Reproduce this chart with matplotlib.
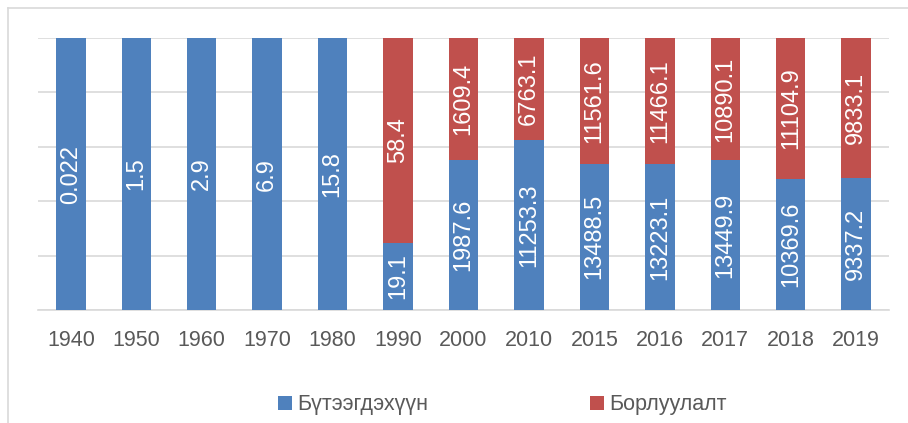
import matplotlib

matplotlib.use("Agg")
import matplotlib.pyplot as plt
import numpy as np
from matplotlib.lines import Line2D

years = ["1940", "1950", "1960", "1970", "1980", "1990", "2000",
         "2010", "2015", "2016", "2017", "2018", "2019"]
product = [0.022, 1.5, 2.9, 6.9, 15.8, 19.1, 1987.6,
           11253.3, 13488.5, 13223.1, 13449.9, 10369.6, 9337.2]
sales = [0, 0, 0, 0, 0, 58.4, 1609.4,
         6763.1, 11561.6, 11466.1, 10890.1, 11104.9, 9833.1]
product_labels = ["0.022", "1.5", "2.9", "6.9", "15.8", "19.1", "1987.6",
                  "11253.3", "13488.5", "13223.1", "13449.9", "10369.6", "9337.2"]
sales_labels = ["", "", "", "", "", "58.4", "1609.4",
                "6763.1", "11561.6", "11466.1", "10890.1", "11104.9", "9833.1"]

plt.rcParams["font.family"] = ["Liberation Sans", "DejaVu Sans"]

BLUE = "#4f81bd"
RED = "#c0504d"
GRID = "#d9d9d9"
TEXT = "#595959"

p = np.array(product, dtype=float)
s = np.array(sales, dtype=float)
total = p + s
p_share = p / total * 100
s_share = s / total * 100

fig = plt.figure(figsize=(9.08, 4.23), dpi=100)
ax = fig.add_axes([0.042, 0.267, 0.937, 0.643])

x = np.arange(len(years))
width = 0.45
ax.bar(x, p_share, width, color=BLUE, label="Бүтээгдэхүүн", zorder=3)
ax.bar(x, s_share, width, bottom=p_share, color=RED, label="Борлуулалт", zorder=3)

for i in range(len(years)):
    if product_labels[i]:
        ax.text(x[i], p_share[i] / 2, product_labels[i], rotation=90,
                ha="center", va="center", color="white", fontsize=17, zorder=4)
    if sales_labels[i]:
        ax.text(x[i], p_share[i] + s_share[i] / 2, sales_labels[i], rotation=90,
                ha="center", va="center", color="white", fontsize=17, zorder=4)

ax.set_xlim(-0.5, len(years) - 0.5)
ax.set_ylim(0, 100)
ax.set_yticks(np.arange(0, 101, 20))
ax.set_yticklabels([])
ax.tick_params(axis="y", length=0)
ax.set_xticks(x)
ax.set_xticklabels(years, fontsize=15.5, color=TEXT)
ax.tick_params(axis="x", length=0, pad=14)
ax.grid(True, axis="y", color=GRID, linewidth=1.2, zorder=0)
for side in ["top", "right", "left"]:
    ax.spines[side].set_visible(False)
ax.spines["bottom"].set_color(GRID)
ax.spines["bottom"].set_linewidth(1.2)

handles, labels = ax.get_legend_handles_labels()
fig.legend(handles, labels, loc="center", bbox_to_anchor=(0.553, 0.043), ncol=2,
           frameon=False, fontsize=15.5, labelcolor=TEXT, handlelength=0.65,
           handleheight=0.65, handletextpad=0.25, columnspacing=7.5)

# chart border (top and left visible in the crop)
fig.add_artist(Line2D([8 / 908, 1.0], [1 - 8 / 423, 1 - 8 / 423],
                      transform=fig.transFigure, color=GRID, linewidth=1.2))
fig.add_artist(Line2D([8 / 908, 8 / 908], [0.0, 1 - 8 / 423],
                      transform=fig.transFigure, color=GRID, linewidth=1.2))

plt.savefig("out.png", dpi=100)
plt.close(fig)
